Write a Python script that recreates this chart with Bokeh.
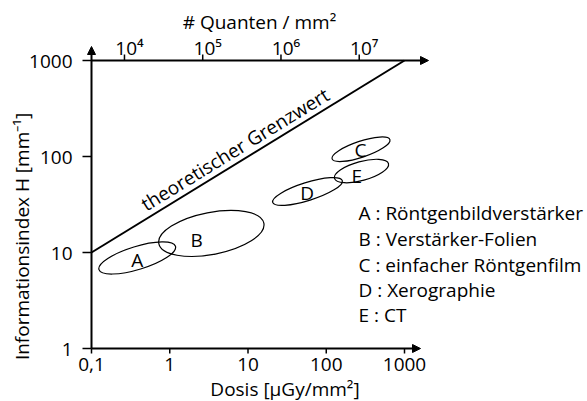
import math
from bokeh.plotting import figure
from bokeh.models import Range1d, LogScale, Label, Arrow, NormalHead
from bokeh.embed import file_html
from bokeh.resources import INLINE
from bokeh.core.properties import value

# ---------------- data ----------------
dose_range = [0.1, 1000]          # µGy/mm²
H_range = [1, 1000]               # mm^-1
quanten_per_dose = 3.79e4         # quanta per mm² per µGy/mm²

dose_ticks = [0.1, 1, 10, 100, 1000]
dose_tick_labels = ["0,1", "1", "10", "100", "1000"]
H_ticks = [1, 10, 100, 1000]
H_tick_labels = ["1", "10", "100", "1000"]
quanten_ticks = [1e4, 1e5, 1e6, 1e7]
quanten_tick_labels = ["10⁴", "10⁵", "10⁶", "10⁷"]

limit_dose = [0.1, 1000]
limit_H = [10, 1000]
limit_text = "theoretischer Grenzwert"

methods = ["A", "B", "C", "D", "E"]
method_names = ["Röntgenbildverstärker", "Verstärker-Folien",
                "einfacher Röntgenfilm", "Xerographie", "CT"]
method_dose = [0.384, 3.40, 278, 57.6, 282]     # ellipse centres
method_H = [8.77, 15.8, 119, 43.2, 70.6]
letter_dose = [0.384, 2.20, 274, 57.1, 246]     # letter positions
letter_H = [7.32, 11.8, 100.7, 36.3, 54.9]

# ---------------- styling / layout ----------------
FONT = "Open Sans"
FS = "19px"
SH = 6            # baseline correction of the renderer (px)
ell_w = [80, 107, 61, 73, 56]
ell_h = [23, 42, 16, 18, 19]
ell_angle = [17, 11, 18.5, 17.4, 15.3]

W, H = 587, 401
PX0, PX1 = 91, 404      # pixel columns of dose 0.1 and 1000
PY1, PY0 = 60, 348      # pixel rows of H 1000 and 1
lx0, lx1 = math.log10(dose_range[0]), math.log10(dose_range[1])
ly0, ly1 = math.log10(H_range[0]), math.log10(H_range[1])
xpd = (PX1 - PX0) / (lx1 - lx0)
ypd = (PY0 - PY1) / (ly1 - ly0)


def at(px, py):
    """page pixel -> data coordinates (for decoration placement)"""
    return 10 ** (lx0 + (px - PX0) / xpd), 10 ** (ly0 + (PY0 - py) / ypd)


x_view = (10 ** (lx0 - PX0 / xpd), 10 ** (lx1 + (W - PX1) / xpd))
y_view = (10 ** (ly0 - (H - PY0) / ypd), 10 ** (ly1 + PY1 / ypd))

p = figure(width=W, height=H, x_axis_type="log", y_axis_type="log",
           x_range=Range1d(*x_view), y_range=Range1d(*y_view),
           output_backend="svg", toolbar_location=None,
           min_border=0)
p.axis.visible = False
p.outline_line_color = None
p.grid.visible = False
p.background_fill_color = "white"
p.border_fill_color = "white"

p.extra_x_ranges = {"q": Range1d(x_view[0] * quanten_per_dose,
                                 x_view[1] * quanten_per_dose)}
p.extra_x_scales = {"q": LogScale()}

txt = dict(text_font=value(FONT), text_font_size=value(FS), text_color="black")

# ---- axis lines with arrow heads ----
head = dict(size=8, fill_color="black", line_color="black", line_width=1)
p.add_layout(Arrow(end=NormalHead(**head), x_start=dose_range[0], y_start=H_range[0],
                   x_end=dose_range[0], y_end=at(PX0, 46)[1], line_width=2))
p.add_layout(Arrow(end=NormalHead(**head), x_start=dose_range[0], y_start=H_range[1],
                   x_end=at(428, PY1)[0], y_end=H_range[1], line_width=2))
p.add_layout(Arrow(end=NormalHead(**head), x_start=dose_range[0], y_start=H_range[0],
                   x_end=at(420, PY0)[0], y_end=H_range[0], line_width=2))

# ---- ticks ----
p.ray(x=dose_ticks, y=[H_range[0]] * len(dose_ticks), length=5, length_units="screen",
      angle=-90, angle_units="deg", line_color="black", line_width=1.5)
p.ray(x=[dose_range[0]] * len(H_ticks), y=H_ticks, length=9, length_units="screen",
      angle=180, angle_units="deg", line_color="black", line_width=1.5)
p.ray(x=quanten_ticks, y=[H_range[1]] * len(quanten_ticks), x_range_name="q",
      length=6, length_units="screen", angle=90, angle_units="deg",
      line_color="black", line_width=1.5)

# ---- tick labels ----
p.text(x=dose_ticks, y=[H_range[0]] * len(dose_ticks), text=dose_tick_labels,
       text_align="center", text_baseline="alphabetic", y_offset=22 - SH, **txt)
p.text(x=[dose_range[0]] * len(H_ticks), y=H_ticks, text=H_tick_labels,
       text_align="right", text_baseline="alphabetic", x_offset=-19, y_offset=7 - SH, **txt)
p.text(x=quanten_ticks, y=[H_range[1]] * len(quanten_ticks), text=quanten_tick_labels,
       x_range_name="q", text_align="center", text_baseline="alphabetic",
       x_offset=5, y_offset=-7 - SH, **txt)

# ---- axis titles ----
tl = dict(text_font=FONT, text_font_size=FS, text_color="black")
x, y = at(284.5, 394 - SH)
p.add_layout(Label(x=x, y=y, text="Dosis [µGy/mm²]", text_align="center",
                   text_baseline="alphabetic", **tl))
x, y = at(259, 27 - SH)
p.add_layout(Label(x=x, y=y, text="# Quanten / mm²", text_align="center",
                   text_baseline="alphabetic", **tl))
x, y = at(27 - SH, 236)
p.add_layout(Label(x=x, y=y, text="Informationsindex H [mm⁻¹]", angle=90,
                   angle_units="deg", text_align="center",
                   text_baseline="alphabetic", **tl))

# ---- theoretical limit ----
p.line(limit_dose, limit_H, line_color="black", line_width=2)
ang = math.radians(31.5)
sx0, sy0 = 145.5, 210.5
x, y = at(sx0 - SH * math.sin(ang), sy0 - SH * math.cos(ang))
p.add_layout(Label(x=x, y=y, text=limit_text, angle=31.5, angle_units="deg",
                   text_align="left", text_baseline="alphabetic", **tl))

# ---- method regions ----
p.ellipse(x=method_dose, y=method_H, width=ell_w, height=ell_h,
          width_units="screen", height_units="screen",
          angle=ell_angle, angle_units="deg",
          fill_color=None, line_color="black", line_width=1.2)
p.text(x=letter_dose, y=letter_H, text=methods, text_align="center",
       text_baseline="alphabetic", y_offset=-SH, **txt)

# ---- legend text ----
leg_base = [218.3, 244, 270, 295.7, 320.7]
for m, n, by in zip(methods, method_names, leg_base):
    x, y = at(358, by - SH)
    p.add_layout(Label(x=x, y=y, text=f"{m} : {n}", text_align="left",
                       text_baseline="alphabetic", **tl))

open("out.html", "w").write(file_html(p, INLINE))
